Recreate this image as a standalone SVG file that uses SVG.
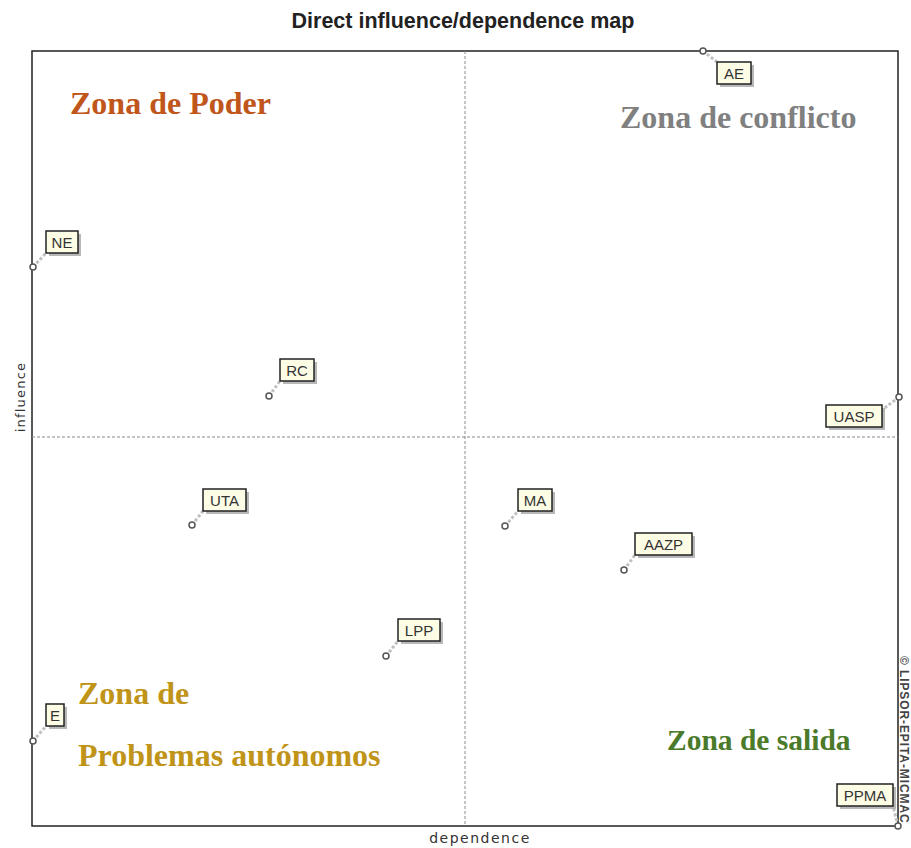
<svg xmlns="http://www.w3.org/2000/svg" width="911" height="848" viewBox="0 0 911 848">
<style>
.frame{fill:none;stroke:#222;stroke-width:1.5}
.axis{stroke:#888;stroke-width:1;stroke-dasharray:3 2;fill:none}
.lead{stroke:#c0c0c0;stroke-width:3;stroke-dasharray:3 2;fill:none}
.pt{fill:#fff;stroke:#555;stroke-width:1.5}
.sh{fill:#9a9a9a;opacity:0.7}
.box{fill:#fdfde6;stroke:#222;stroke-width:1.5}
.lbl{font-family:"Liberation Sans",Arial,sans-serif;font-size:15px;fill:#333}
.zone{font-family:"Liberation Serif","Times New Roman",serif;font-weight:bold}
</style>
<rect width="911" height="848" fill="#fff"/>
<text x="463" y="28" text-anchor="middle" font-family="Liberation Sans,Arial,sans-serif" font-weight="bold" font-size="21.5" fill="#222">Direct influence/dependence map</text>
<g id="frame">
<rect class="frame" x="32" y="51" width="866" height="775"/>
<line class="axis" x1="465" y1="51" x2="465" y2="826"/>
<line class="axis" x1="32" y1="437" x2="898" y2="437"/>
</g>
<text x="480" y="843" text-anchor="middle" font-family="DejaVu Sans,Verdana,sans-serif" font-size="14" letter-spacing="1.5" fill="#333">dependence</text>
<text transform="translate(25,397) rotate(-90)" text-anchor="middle" font-family="DejaVu Sans,Verdana,sans-serif" font-size="13" letter-spacing="1.2" fill="#333">influence</text>
<text transform="translate(900,656) rotate(90)" font-family="Liberation Sans,Arial,sans-serif" font-size="12" font-weight="bold" letter-spacing="0.9" fill="#444">© LIPSOR-EPITA-MICMAC</text>
<g id="zones">
<text class="zone" x="70" y="114" font-size="32" fill="#c0561b">Zona de Poder</text>
<text class="zone" x="620" y="128" font-size="32" fill="#808080">Zona de conflicto</text>
<text class="zone" x="78" y="704" font-size="32" fill="#c09418">Zona de</text>
<text class="zone" x="78" y="766" font-size="32" fill="#c09418">Problemas autónomos</text>
<text class="zone" x="667" y="750" font-size="29.5" fill="#4a7a2a">Zona de salida</text>
</g>
<g id="connectors">
<line class="lead" x1="703" y1="51" x2="717" y2="62"/>
<line class="lead" x1="33" y1="267" x2="46" y2="253"/>
<line class="lead" x1="269" y1="396" x2="280" y2="381"/>
<line class="lead" x1="899" y1="397" x2="882" y2="410"/>
<line class="lead" x1="192" y1="525" x2="203" y2="511"/>
<line class="lead" x1="505" y1="526" x2="518" y2="511"/>
<line class="lead" x1="624" y1="570" x2="635" y2="555"/>
<line class="lead" x1="386" y1="656" x2="398" y2="641"/>
<line class="lead" x1="33" y1="741" x2="46" y2="726"/>
<line class="lead" x1="898" y1="826" x2="893" y2="806"/>
</g>
<g id="AE"><rect class="sh" x="720" y="65" width="34" height="22"/><rect class="box" x="717" y="62" width="34" height="22"/><text class="lbl" x="734" y="79" text-anchor="middle">AE</text><circle class="pt" cx="703" cy="51" r="3"/></g>
<g id="NE"><rect class="sh" x="49" y="234" width="32" height="22"/><rect class="box" x="46" y="231" width="32" height="22"/><text class="lbl" x="62" y="248" text-anchor="middle">NE</text><circle class="pt" cx="33" cy="267" r="3"/></g>
<g id="RC"><rect class="sh" x="283" y="362" width="34" height="22"/><rect class="box" x="280" y="359" width="34" height="22"/><text class="lbl" x="297" y="376" text-anchor="middle">RC</text><circle class="pt" cx="269" cy="396" r="3"/></g>
<g id="UASP"><rect class="sh" x="829" y="408" width="56" height="22"/><rect class="box" x="826" y="405" width="56" height="22"/><text class="lbl" x="854" y="422" text-anchor="middle">UASP</text><circle class="pt" cx="899" cy="397" r="3"/></g>
<g id="UTA"><rect class="sh" x="206" y="492" width="43" height="22"/><rect class="box" x="203" y="489" width="43" height="22"/><text class="lbl" x="224.5" y="506" text-anchor="middle">UTA</text><circle class="pt" cx="192" cy="525" r="3"/></g>
<g id="MA"><rect class="sh" x="521" y="492" width="34" height="22"/><rect class="box" x="518" y="489" width="34" height="22"/><text class="lbl" x="535" y="506" text-anchor="middle">MA</text><circle class="pt" cx="505" cy="526" r="3"/></g>
<g id="AAZP"><rect class="sh" x="638" y="536" width="57" height="22"/><rect class="box" x="635" y="533" width="57" height="22"/><text class="lbl" x="663.5" y="550" text-anchor="middle">AAZP</text><circle class="pt" cx="624" cy="570" r="3"/></g>
<g id="LPP"><rect class="sh" x="401" y="622" width="42" height="22"/><rect class="box" x="398" y="619" width="42" height="22"/><text class="lbl" x="419" y="636" text-anchor="middle">LPP</text><circle class="pt" cx="386" cy="656" r="3"/></g>
<g id="E"><rect class="sh" x="49" y="707" width="18" height="22"/><rect class="box" x="46" y="704" width="18" height="22"/><text class="lbl" x="55" y="721" text-anchor="middle">E</text><circle class="pt" cx="33" cy="741" r="3"/></g>
<g id="PPMA"><rect class="sh" x="840" y="787" width="56" height="22"/><rect class="box" x="837" y="784" width="56" height="22"/><text class="lbl" x="865" y="801" text-anchor="middle">PPMA</text><circle class="pt" cx="898" cy="826" r="3"/></g>
</svg>
